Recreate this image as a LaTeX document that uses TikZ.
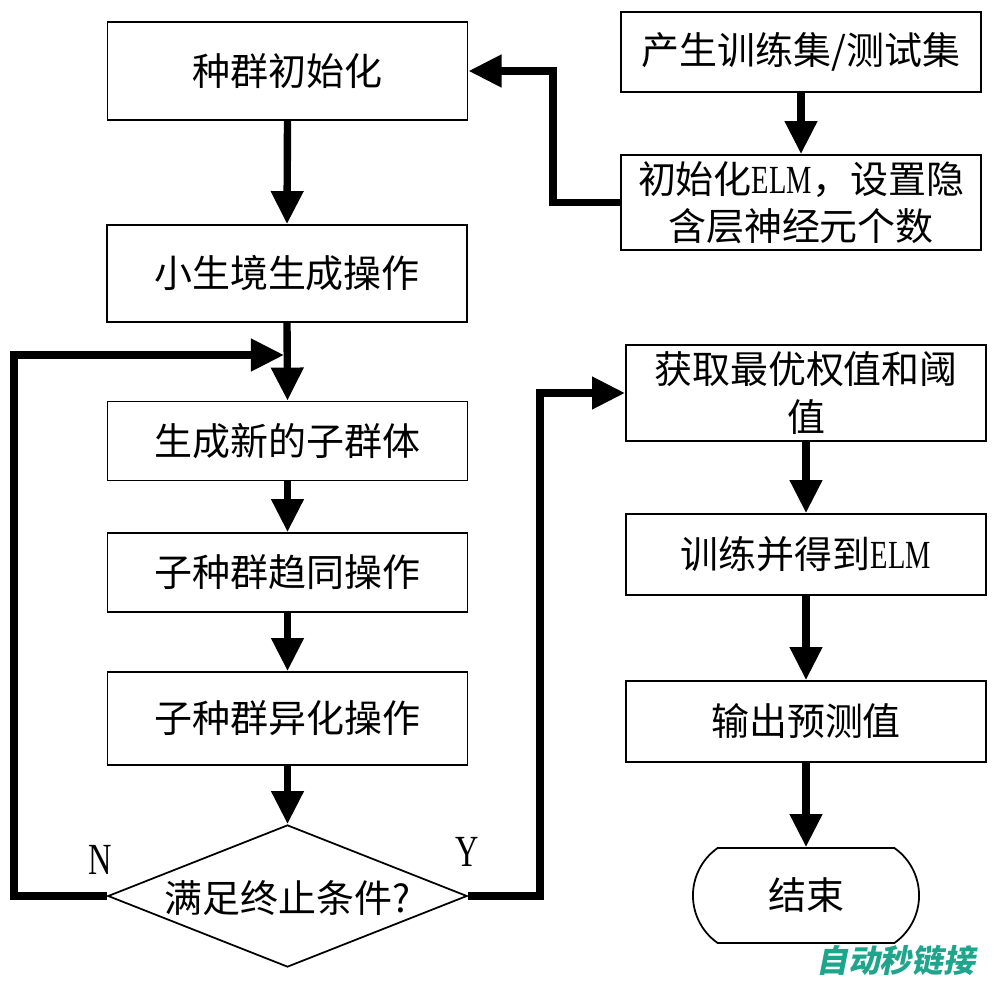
\documentclass[tikz,border=0pt]{standalone}
\usepackage{fontspec}
\setmainfont{Noto Sans CJK SC}
\newfontfamily\lat{Liberation Serif}
\usetikzlibrary{shapes.geometric,shapes.misc,arrows.meta}
\definecolor{wm}{RGB}{30,165,140}
\newcommand{\elmtxt}{\scalebox{0.75}[1.05]{\lat ELM}}
\tikzset{
  box/.style={draw, line width=0.5pt, inner sep=0pt, minimum width=3.6cm, align=center,
              font=\fontsize{10.8pt}{13.5pt}\selectfont},
  arr/.style={line width=2.1pt, -{Triangle[length=0.33cm,width=0.31cm]}},
  lbl/.style={font=\lat\fontsize{11.5pt}{13pt}\selectfont, inner sep=0pt}
}
\begin{document}
\begin{tikzpicture}[x=0.01cm,y=-0.01cm]
\useasboundingbox (0,0) rectangle (1000,982);
% left column
\node[box, minimum height=0.98cm] (A) at (287.5,71) {种群初始化};
\node[box, minimum height=0.97cm] (B) at (287,273.5) {小生境生成操作};
\node[box, minimum height=0.79cm] (C) at (287.5,441) {生成新的子群体};
\node[box, minimum height=0.79cm] (D) at (287.5,572.5) {子种群趋同操作};
\node[box, minimum height=0.93cm] (E) at (287.5,718.5) {子种群异化操作};
\node[draw, diamond, line width=0.5pt, inner sep=0pt, minimum width=3.59cm, minimum height=1.42cm] (F) at (287.5,896) {};
\node[font=\fontsize{10.8pt}{13pt}\selectfont, inner sep=0pt] (Ft) at (287.5,898) {满足终止条件?};
% right column
\node[box, minimum height=0.80cm] (G) at (801,52) {产生训练集/测试集};
\node[box, minimum height=0.95cm] (H) at (801,202.5) {初始化\elmtxt，设置隐\\含层神经元个数};
\node[box, minimum height=0.96cm] (I) at (806,393) {获取最优权值和阈\\值};
\node[box, minimum height=0.81cm] (J) at (806,554.5) {训练并得到\elmtxt};
\node[box, minimum height=0.81cm] (K) at (806,721.5) {输出预测值};
\node[draw, rounded rectangle, rounded rectangle arc length=110, line width=0.5pt, inner sep=0pt,
      minimum width=2.26cm, minimum height=0.95cm, font=\fontsize{10.8pt}{13pt}\selectfont] (L) at (806,895.5) {结束};
% labels
\node[lbl] (N) at (100,860) {\scalebox{0.8}[1.1]{N}};
\node[lbl] (Y) at (467,852) {\scalebox{0.8}[1.1]{Y}};
% connectors
\coordinate (nj) at (284,355);
\draw[arr] (A.south) -- (B.north);
\draw[arr] (B.south) -- (C.north);
\draw[arr] (C.south) -- (D.north);
\draw[arr] (D.south) -- (E.north);
\draw[arr] (E.south) -- (F.north);
\draw[arr] (F.west) -- (14,896) |- (nj);
\draw[arr] (F.east) -- (540,896) |- (I.west);
\draw[arr] (G.south) -- (H.north);
\draw[arr] (H.west) -- (553,202.5) |- (A.east);
\draw[arr] (I.south) -- (J.north);
\draw[arr] (J.south) -- (K.north);
\draw[arr] (K.south) -- (L.north);
% watermark
\node[text=wm, font=\bfseries\fontsize{9pt}{11pt}\selectfont, inner sep=0pt, transform shape, xslant=0.2] (wmk) at (898,960) {自动秒链接};
\end{tikzpicture}
\end{document}
